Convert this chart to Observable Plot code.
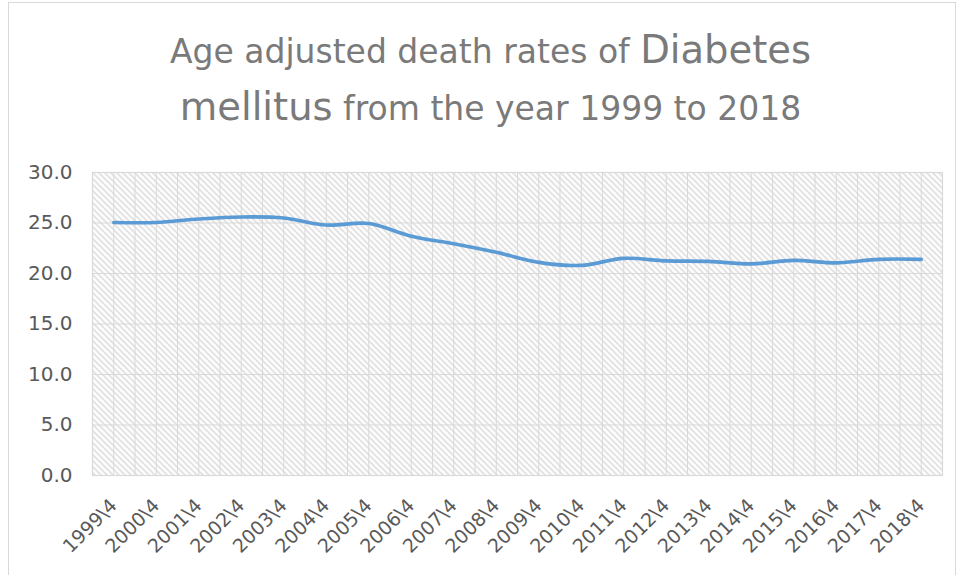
<!DOCTYPE html>
<html><head><meta charset="utf-8">
<script src="https://cdn.jsdelivr.net/npm/d3@7"></script>
<script src="https://cdn.jsdelivr.net/npm/@observablehq/plot@0.6"></script>
<style>
body{margin:0;background:#fff;}
#wrap{position:relative;width:961px;height:575px;overflow:hidden;background:#fff;}
#border{position:absolute;left:8px;top:2px;width:948px;height:590px;border:1px solid #d9d9d9;box-sizing:border-box;}
#title{position:absolute;left:0;top:22px;width:981px;text-align:center;color:#7a7a7a;font-family:"DejaVu Sans",sans-serif;font-size:33px;line-height:55px;white-space:nowrap;}
#title .big{font-size:38.5px;}
#chart{position:absolute;left:0;top:140px;}
</style></head>
<body><div id="wrap"><div id="border"></div>
<div id="title"><div>Age adjusted death rates of <span class="big">Diabetes</span></div><div><span class="big">mellitus</span> from the year 1999 to 2018</div></div>
<div id="chart"></div></div>
<script>
const years = [1999,2000,2001,2002,2003,2004,2005,2006,2007,2008,2009,2010,2011,2012,2013,2014,2015,2016,2017,2018];
const tickLabels = ["1999\\4","2000\\4","2001\\4","2002\\4","2003\\4","2004\\4","2005\\4","2006\\4","2007\\4","2008\\4","2009\\4","2010\\4","2011\\4","2012\\4","2013\\4","2014\\4","2015\\4","2016\\4","2017\\4","2018\\4"];
const rates = [25.05,25.05,25.4,25.6,25.5,24.8,24.95,23.7,22.95,22.1,21.1,20.8,21.5,21.25,21.2,20.95,21.3,21.05,21.4,21.4];
const yTicks = [0,5,10,15,20,25,30];

const data = years.map((y,i)=>({year:y, rate:rates[i], label:tickLabels[i]}));
const halfGrid = d3.range(years[0]-0.5, years[years.length-1]+0.51, 0.5);

const chart = Plot.plot({
  width:961, height:435,
  marginLeft:92, marginRight:19, marginTop:32, marginBottom:100,
  style:{fontFamily:"DejaVu Sans, sans-serif", color:"#595959", background:"transparent"},
  x:{domain:[years[0]-0.5, years[years.length-1]+0.5]},
  y:{domain:[0,30]},
  marks:[
    Plot.frame({fill:"url(#hatch)", stroke:null}),
    Plot.gridY(yTicks, {stroke:"#d9d9d9", strokeOpacity:1, strokeWidth:1}),
    Plot.ruleX(halfGrid, {stroke:"#d9d9d9", strokeWidth:1}),
    Plot.frame({stroke:"#d9d9d9", strokeWidth:1.2}),
    Plot.axisY(yTicks, {tickSize:0, tickPadding:20, tickFormat:d=>d.toFixed(1), fontSize:20, label:null, fill:"#595959"}),
    Plot.axisX(years, {tickSize:0, tickPadding:27, tickRotate:-45, tickFormat:d=>tickLabels[years.indexOf(d)], fontSize:19, label:null, fill:"#595959"}),
    Plot.line(data, {x:"year", y:"rate", stroke:"#5B9BD5", strokeWidth:3.6, curve:"catmull-rom"})
  ]
});
const svg = d3.select(chart);
const defs = svg.insert("defs", ":first-child");
const pat = defs.append("pattern").attr("id","hatch").attr("patternUnits","userSpaceOnUse").attr("width",6).attr("height",6);
pat.append("rect").attr("width",6).attr("height",6).attr("fill","#ffffff");
pat.append("path").attr("d","M-1,-1L7,7M-1,5L1,7M5,-1L7,1").attr("stroke","#d4d4d4").attr("stroke-width",1.3);
document.getElementById("chart").appendChild(chart);
</script></body></html>
